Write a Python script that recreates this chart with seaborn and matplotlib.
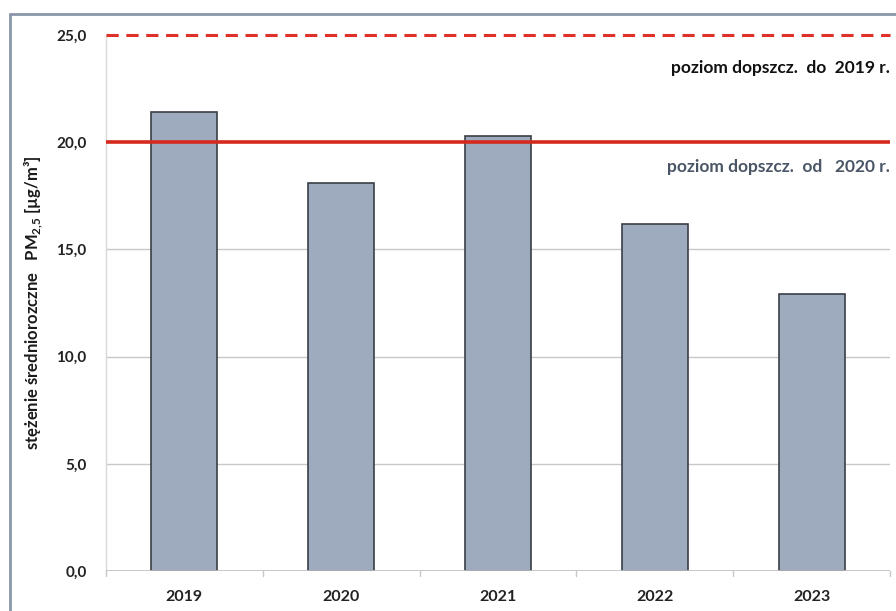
import matplotlib
matplotlib.use("Agg")
import matplotlib.pyplot as plt
import seaborn as sns
import pandas as pd
from matplotlib.lines import Line2D

years = ["2019", "2020", "2021", "2022", "2023"]
values = [21.4, 18.1, 20.3, 16.2, 12.9]
yticks = [0, 5, 10, 15, 20, 25]
ytick_labels = ["0,0", "5,0", "10,0", "15,0", "20,0", "25,0"]
limit_old = 25.0
limit_new = 20.0
label_old = "poziom dopszcz.  do  2019 r."
label_new = "poziom dopszcz.  od   2020 r."
ylabel = "stężenie średniorozczne   PM$_{\\mathbf{2{,}5}}$ [µg/m³]"

sns.set_theme(style="white")
plt.rcParams['font.family'] = ['Lato', 'DejaVu Sans']
plt.rcParams['mathtext.fontset'] = 'custom'
plt.rcParams['mathtext.rm'] = 'Lato'
plt.rcParams['mathtext.bf'] = 'Lato:bold'

df = pd.DataFrame({"rok": years, "pm": values})

fig = plt.figure(figsize=(8.96, 6.11), dpi=100)
ax = fig.add_axes([106/896, 1-571/611, 784/896, 536/611])

sns.barplot(data=df, x="rok", y="pm", ax=ax, color="#9eaabd", width=0.42,
            edgecolor="#3a3f47", linewidth=1.2, saturation=1, zorder=3)

ax.set_ylim(0, 25)
ax.set_xlim(-0.5, 4.5)
ax.set_yticks(yticks)
ax.set_yticklabels(ytick_labels, fontsize=11, fontweight="bold", color="#222222")
ax.set_xticks(range(len(years)))
ax.set_xticklabels(years, fontsize=11.5, fontweight="bold", color="#222222")
ax.tick_params(axis="x", length=0, pad=14)
ax.tick_params(axis="y", length=0, pad=14)

for y in [5, 10, 15]:
    ax.axhline(y, color="#c8c8c8", lw=1.0, zorder=1)
ax.axhline(0, color="#bdbdbd", lw=1.2, zorder=4)

# category boundary ticks on x axis
for b in [-0.5, 0.5, 1.5, 2.5, 3.5, 4.5]:
    ax.plot([b, b], [0, -0.25], color="#c8c8c8", lw=1.0, clip_on=False, zorder=4)

ax.axhline(limit_old, color="#e0302a", lw=2.2, ls=(0, (4, 2.5)), zorder=5, clip_on=False)
ax.axhline(limit_new, color="#d42a1e", lw=2.6, zorder=5)

ax.text(4.5, 23.45, label_old, ha="right", va="center", fontsize=12.5,
        fontweight="bold", color="#111111")
ax.text(4.5, 18.85, label_new, ha="right", va="center", fontsize=12.5,
        fontweight="bold", color="#4a5566")

ax.set_xlabel("")
ax.set_ylabel(ylabel, fontsize=12, fontweight="bold", color="#1a1a1a", labelpad=8)

for s in ["top", "right", "bottom"]:
    ax.spines[s].set_visible(False)
ax.spines["left"].set_color("#d9d9d9")
ax.spines["left"].set_linewidth(1.0)

# outer chart frame
fig.add_artist(Line2D([10/896, 10/896], [0, 1-14/611], color="#8a96aa", lw=2.0,
                      transform=fig.transFigure))
fig.add_artist(Line2D([10/896, 1], [1-14/611, 1-14/611], color="#8a96aa", lw=2.0,
                      transform=fig.transFigure))

fig.savefig("out.png", dpi=100)
